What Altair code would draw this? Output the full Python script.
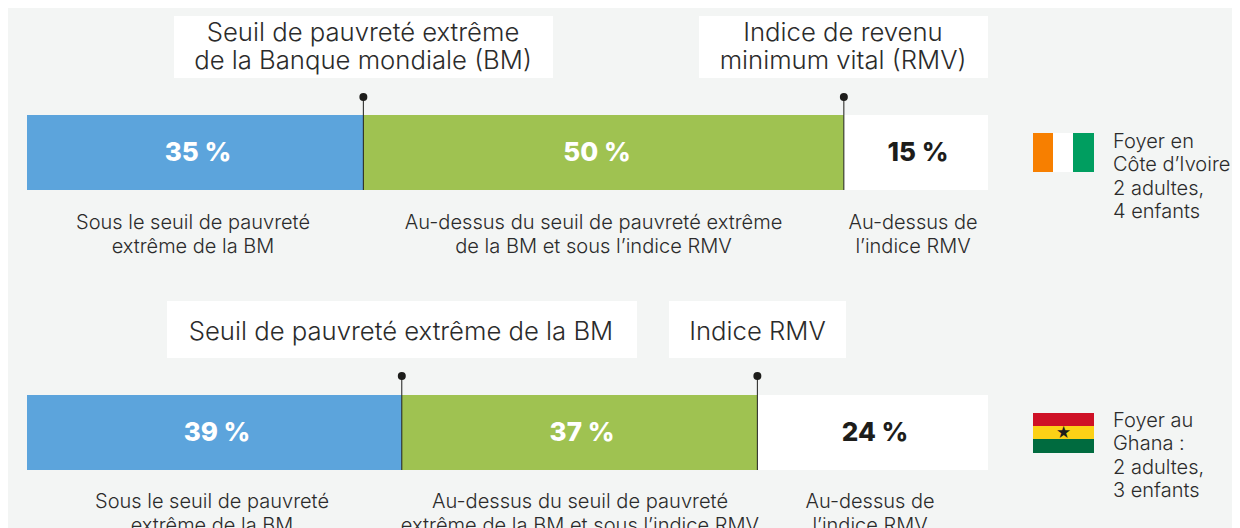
import altair as alt
import pandas as pd

FONT = "Inter"
INK = "#2b2b2b"
BG = "#f3f5f4"
BLUE, GREEN, WHITE = "#5ca4dc", "#9fc251", "#ffffff"

shares_ci = [35, 50, 15]
shares_gh = [39, 37, 24]
value_labels_ci = ["35 %", "50 %", "15 %"]
value_labels_gh = ["39 %", "37 %", "24 %"]
segment_colors = [BLUE, GREEN, WHITE]
below_wb = ["Sous le seuil de pauvreté", "extrême de la BM"]
between = ["Au-dessus du seuil de pauvreté extrême", "de la BM et sous l’indice RMV"]
between_gh = ["Au-dessus du seuil de pauvreté", "extrême de la BM et sous l’indice RMV"]
above = ["Au-dessus de", "l’indice RMV"]
title_wb_ci = ["Seuil de pauvreté extrême", "de la Banque mondiale (BM)"]
title_rmv_ci = ["Indice de revenu", "minimum vital (RMV)"]
title_wb_gh = ["Seuil de pauvreté extrême de la BM"]
title_rmv_gh = ["Indice RMV"]
legend_ci = ["Foyer en", "Côte d’Ivoire :", "2 adultes,", "4 enfants"]
legend_gh = ["Foyer au", "Ghana :", "2 adultes,", "3 enfants"]

W, H = 1224, 520
# share scale: 0 % sits at page x 27, 100 % at page x 988
unit = (988 - 27) / 100
xscale = alt.Scale(domain=[(8 - 27) / unit, (8 + W - 27) / unit], range=[0, W], nice=False, zero=False)
blank = alt.Data(values=[{"k": 0}])


def px(v):
    return alt.value(v - 8)


def box(x0, x1, y0, y1, color):
    return alt.Chart(blank).mark_rect(color=color).encode(x=px(x0), x2=px(x1), y=px(y0), y2=px(y1))


def text(lines, x, y0, step, size, weight=300, align="center", color=INK):
    out = []
    for i, line in enumerate(lines):
        out.append(
            alt.Chart(pd.DataFrame({"t": [line]}))
            .mark_text(font=FONT, fontSize=size, fontWeight=weight, align=align, baseline="middle",
                       color=color, clip=True)
            .encode(text="t:N", x=px(x), y=px(y0 + i * step))
        )
    return out


def bar(shares, top, bottom):
    starts = [sum(shares[:i]) for i in range(len(shares))]
    df = pd.DataFrame({"start": starts, "end": [s + v for s, v in zip(starts, shares)], "c": segment_colors})
    return (
        alt.Chart(df)
        .mark_rect()
        .encode(
            x=alt.X("start:Q", scale=xscale, axis=None),
            x2="end:Q",
            y=px(top),
            y2=px(bottom),
            color=alt.Color("c:N", scale=None),
        )
    )


def ticks(shares, top, bottom):
    cuts = [shares[0], shares[0] + shares[1]]
    df = pd.DataFrame({"x": cuts})
    rule = alt.Chart(df).mark_rule(color="#1d1d1b", strokeWidth=1).encode(
        x=alt.X("x:Q", scale=xscale, axis=None), y=px(top), y2=px(bottom))
    dot = alt.Chart(df).mark_point(filled=True, color="#1d1d1b", size=64, opacity=1).encode(
        x=alt.X("x:Q", scale=xscale, axis=None), y=px(top))
    return [rule, dot]


layers = [
    box(174, 553, 16, 78, WHITE),
    box(699, 988, 16, 78, WHITE),
    box(167, 637, 301, 358, WHITE),
    box(669, 846, 301, 358, WHITE),
    bar(shares_ci, 115, 190),
    bar(shares_gh, 395, 470),
]
layers += ticks(shares_ci, 97, 190) + ticks(shares_gh, 376, 470)
layers += text(title_wb_ci, 363, 32.5, 28, 25.7)
layers += text(title_rmv_ci, 843, 32.5, 28, 25.7)
layers += text(title_wb_gh, 401, 331.5, 0, 25.7)
layers += text(title_rmv_gh, 757.5, 331.5, 0, 25.7)
for label, cx in zip(value_labels_ci, [198, 597, 918]):
    layers += text([label], cx, 153, 0, 26, 800, color=WHITE if label != "15 %" else "#1d1d1b")
for label, cx in zip(value_labels_gh, [217, 582, 875]):
    layers += text([label], cx, 433, 0, 26, 800, color=WHITE if label != "24 %" else "#1d1d1b")
layers += text(below_wb, 193, 222.7, 24, 20)
layers += text(between, 593.5, 222.7, 24, 20.1)
layers += text(above, 913, 222.7, 24, 20)
layers += text(below_wb, 212, 501.7, 24, 20)
layers += text(between_gh, 580, 501.7, 24, 20.1)
layers += text(above, 870, 501.7, 24, 20)
layers += [box(1033, 1053, 133, 172, "#f77f00"), box(1053, 1073, 133, 172, WHITE), box(1073, 1094, 133, 172, "#009e60")]
layers += [box(1033, 1094, 413, 426, "#ce1126"), box(1033, 1094, 426, 439, "#fcd116"), box(1033, 1094, 439, 453, "#006b3f")]
layers += text(["★"], 1063.5, 433, 0, 15, color="#1d1d1b")
layers += text(legend_ci, 1113, 141.7, 23.4, 20, align="left")
layers += text(legend_gh, 1113, 420.7, 23.4, 20, align="left")

chart = (
    alt.layer(*layers)
    .properties(width=W, height=H, background=BG, padding=0)
    .configure_view(stroke=None, fill=BG)
)
chart.save("out.html", embed_options={"renderer": "svg", "actions": False})
